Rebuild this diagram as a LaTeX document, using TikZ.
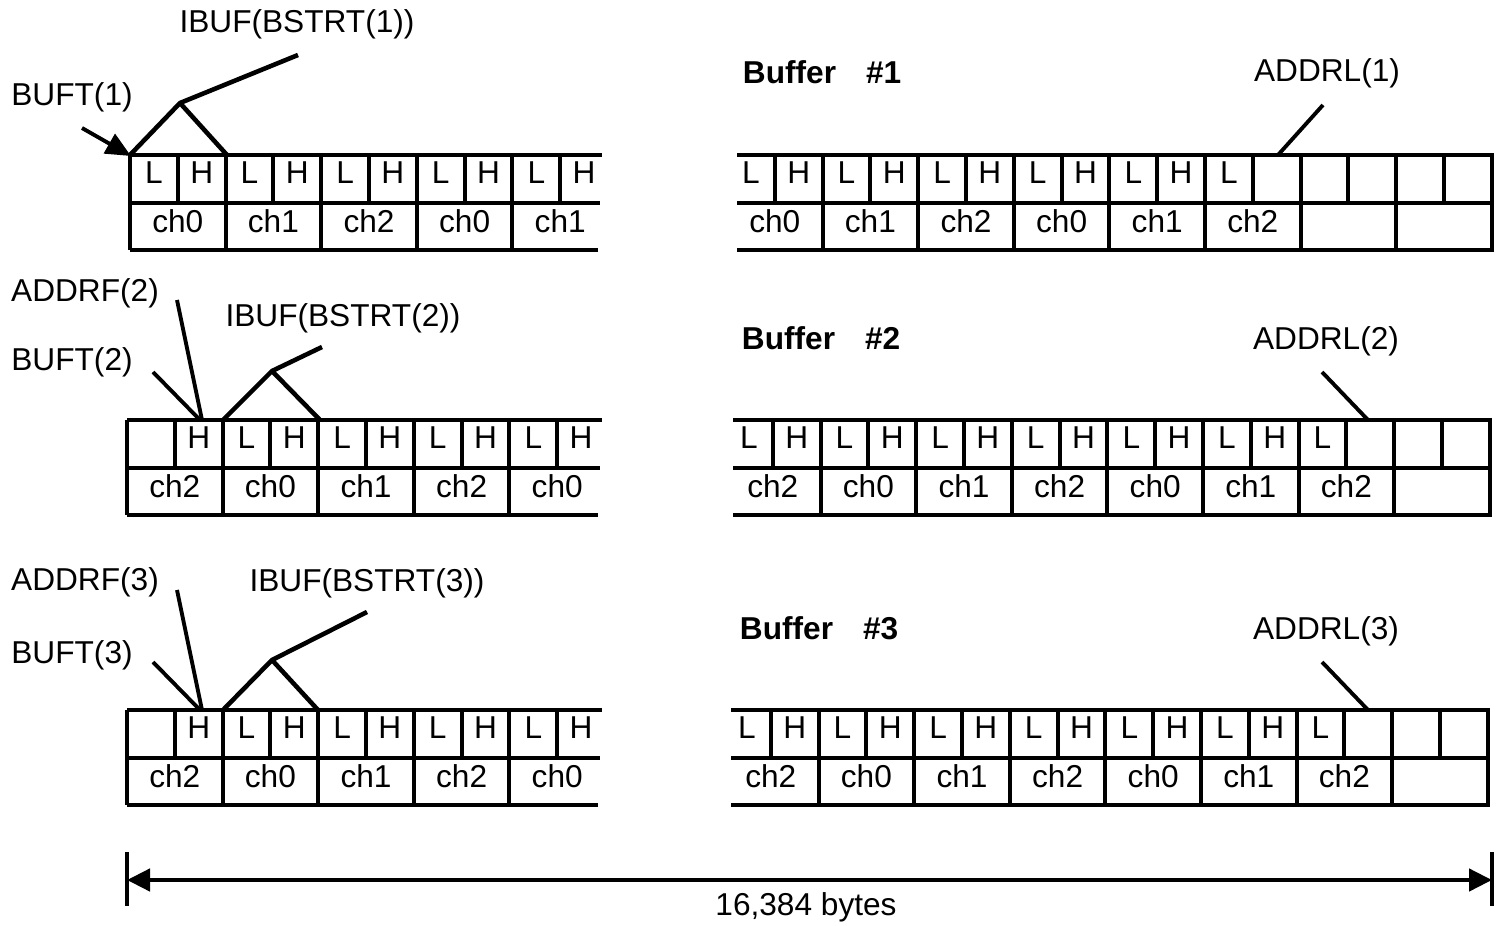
\documentclass[tikz,border=0pt]{standalone}
\usepackage{fontspec}
\setmainfont{Liberation Sans}
\usetikzlibrary{arrows.meta}

\begin{document}
\begin{tikzpicture}[x=0.1mm,y=-0.1mm,line width=1.1pt,
    every node/.style={font=\fontsize{9}{11}\selectfont,inner sep=0pt},
    title/.style={font=\fontsize{9}{11}\selectfont\bfseries,anchor=west},
    ptr/.style={line width=1.1pt},
    fork/.style={line width=1.3pt,line join=miter},
    tip/.style={-{Triangle[length=2.5mm,width=2.2mm]}}]

    % Fix the page size
    \useasboundingbox (0,0) rectangle (1497,926);

    % Define cell width
    \def\cw{47.8}

    % Draw the start of each buffer (cut off on the right)
    \foreach \row/\ytop/\xs/\bytes/\chans in {
        1/155/130/{L,H,L,H,L,H,L,H,L,H}/{ch0,ch1,ch2,ch0,ch1},
        2/420/127/{{},H,L,H,L,H,L,H,L,H}/{ch2,ch0,ch1,ch2,ch0},
        3/710/127/{{},H,L,H,L,H,L,H,L,H}/{ch2,ch0,ch1,ch2,ch0}} {
        \draw (\xs,\ytop) -- (602,\ytop) (\xs,\ytop+48) -- (600,\ytop+48)
              (\xs,\ytop+95) -- (598,\ytop+95);
        \draw (\xs,\ytop) -- (\xs,\ytop+95);
        \foreach \k in {1,...,9}
            \draw (\xs+\k*\cw,\ytop) -- (\xs+\k*\cw,\ytop+48);
        \foreach \k in {2,4,6,8}
            \draw (\xs+\k*\cw,\ytop+48) -- (\xs+\k*\cw,\ytop+95);
        \foreach \bt [count=\i from 0] in \bytes
            \node (lb\row-\i) at (\xs+\i*\cw+0.5*\cw,\ytop+18) {\bt};
        \foreach \ch [count=\i from 0] in \chans
            \node (lc\row-\i) at (\xs+2*\i*\cw+\cw,\ytop+66) {\ch};
    }

    % Draw the end of each buffer
    \foreach \row/\ytop/\xs/\gx/\bytes/\chans in {
        1/155/737/727/{L,H,L,H,L,H,L,H,L,H,L}/{ch0,ch1,ch2,ch0,ch1,ch2},
        2/420/733/725/{L,H,L,H,L,H,L,H,L,H,L,H,L}/{ch2,ch0,ch1,ch2,ch0,ch1,ch2},
        3/710/731/723/{L,H,L,H,L,H,L,H,L,H,L,H,L}/{ch2,ch0,ch1,ch2,ch0,ch1,ch2}} {
        \draw (\xs,\ytop) -- (\gx+16*\cw,\ytop) -- (\gx+16*\cw,\ytop+95) -- (\xs,\ytop+95);
        \draw (\xs,\ytop+48) -- (\gx+16*\cw,\ytop+48);
        \foreach \k in {1,...,15}
            \draw (\gx+\k*\cw,\ytop) -- (\gx+\k*\cw,\ytop+48);
        \foreach \k in {2,4,...,14}
            \draw (\gx+\k*\cw,\ytop+48) -- (\gx+\k*\cw,\ytop+95);
        \foreach \bt [count=\i from 0] in \bytes
            \node (rb\row-\i) at (\gx+\i*\cw+0.5*\cw,\ytop+18) {\bt};
        \foreach \ch [count=\i from 0] in \chans
            \node (rc\row-\i) at (\gx+2*\i*\cw+\cw,\ytop+66) {\ch};
    }

    % Buffer titles and last addresses
    \node[title] (buf1) at (741,72) {Buffer\hspace{0.95em}\#1};
    \node[title] (buf2) at (740,338) {Buffer\hspace{0.95em}\#2};
    \node[title] (buf3) at (738,628) {Buffer\hspace{0.95em}\#3};
    \node (addrl1) at (1327,73) {ADDRL(1)};
    \node (addrl2) at (1326,341) {ADDRL(2)};
    \node (addrl3) at (1326,631) {ADDRL(3)};
    \coordinate (al1a) at (1323,105); \coordinate (al1b) at (1278,155);
    \coordinate (al2a) at (1322,372); \coordinate (al2b) at (1368,420);
    \coordinate (al3a) at (1322,662); \coordinate (al3b) at (1368,710);
    \draw[ptr] (al1a) -- (al1b);
    \draw[ptr] (al2a) -- (al2b);
    \draw[ptr] (al3a) -- (al3b);

    % Pointers into buffer 1
    \node (buft1) at (72,97) {BUFT(1)};
    \node (ibuf1) at (297,24) {IBUF(BSTRT(1))};
    \coordinate (bt1a) at (82,128);  \coordinate (bt1b) at (131,156);
    \coordinate (ib1a) at (298,55);  \coordinate (ib1top) at (180,103);
    \coordinate (ib1l) at (130,155); \coordinate (ib1r) at (227,155);
    \draw[ptr,tip] (bt1a) -- (bt1b);
    \draw[fork] (ib1a) -- (ib1top) -- (ib1l) (ib1top) -- (ib1r);

    % Pointers into buffer 2
    \node (addrf2) at (85,293) {ADDRF(2)};
    \node (buft2) at (72,362) {BUFT(2)};
    \node (ibuf2) at (343,318) {IBUF(BSTRT(2))};
    \coordinate (af2a) at (177,300); \coordinate (af2b) at (202,420);
    \coordinate (bt2a) at (153,372); \coordinate (bt2b) at (200,420);
    \coordinate (ib2a) at (322,347); \coordinate (ib2top) at (272,371);
    \coordinate (ib2l) at (223,420); \coordinate (ib2r) at (320,420);
    \draw[ptr] (af2a) -- (af2b);
    \draw[ptr] (bt2a) -- (bt2b);
    \draw[fork] (ib2a) -- (ib2top) -- (ib2l) (ib2top) -- (ib2r);

    % Pointers into buffer 3
    \node (addrf3) at (85,582) {ADDRF(3)};
    \node (buft3) at (72,655) {BUFT(3)};
    \node (ibuf3) at (367,583) {IBUF(BSTRT(3))};
    \coordinate (af3a) at (177,590); \coordinate (af3b) at (202,710);
    \coordinate (bt3a) at (153,662); \coordinate (bt3b) at (200,710);
    \coordinate (ib3a) at (367,612); \coordinate (ib3top) at (272,660);
    \coordinate (ib3l) at (223,710); \coordinate (ib3r) at (318,710);
    \draw[ptr] (af3a) -- (af3b);
    \draw[ptr] (bt3a) -- (bt3b);
    \draw[fork] (ib3a) -- (ib3top) -- (ib3l) (ib3top) -- (ib3r);

    % Total size
    \coordinate (dimL) at (127,880);
    \coordinate (dimR) at (1492,880);
    \draw (127,852) -- (127,906) (1492,852) -- (1492,906);
    \draw[line width=1.3pt,{Triangle[length=2.3mm,width=2.2mm]}-{Triangle[length=2.3mm,width=2.2mm]}]
        (dimL) -- (dimR);
    \node (total) at (806,907) {16,384 bytes};

\end{tikzpicture}
\end{document}
